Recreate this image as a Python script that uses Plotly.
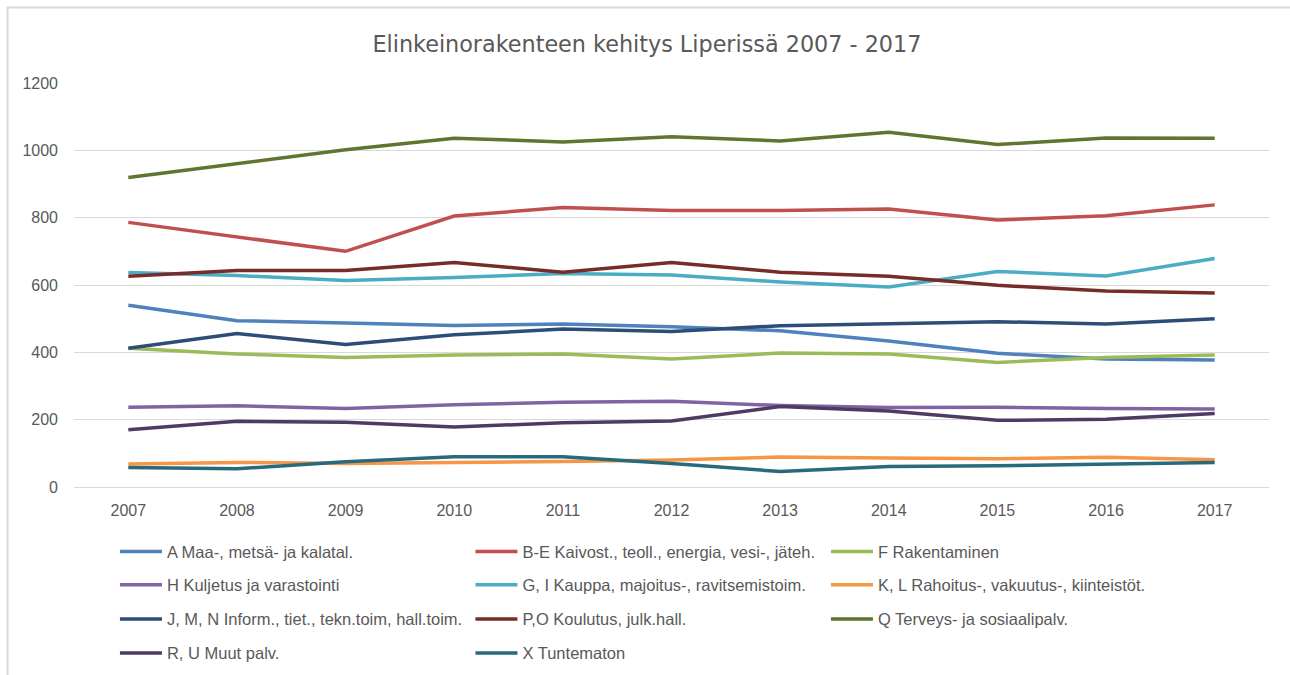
import plotly.graph_objects as go

# ── data ──────────────────────────────────────────────
years = [2007, 2008, 2009, 2010, 2011, 2012, 2013, 2014, 2015, 2016, 2017]

a_maa = [540, 494, 487, 480, 484, 476, 464, 434, 397, 380, 377]
be_teoll = [786, 744, 700, 805, 830, 821, 821, 826, 793, 806, 838]
f_rak = [412, 395, 385, 392, 395, 380, 398, 395, 370, 385, 392]
h_kulj = [237, 241, 233, 244, 252, 255, 242, 236, 237, 233, 232]
gi_kauppa = [637, 628, 613, 622, 634, 630, 609, 594, 640, 627, 679]
kl_rahoitus = [68, 73, 70, 72, 76, 80, 89, 86, 84, 88, 81]
jmn_inform = [412, 456, 423, 452, 469, 462, 479, 484, 491, 484, 500]
po_koulutus = [626, 643, 643, 667, 638, 667, 638, 626, 599, 582, 576]
q_terveys = [919, 961, 1002, 1036, 1025, 1040, 1028, 1054, 1017, 1037, 1036]
ru_muut = [170, 195, 192, 178, 191, 196, 239, 226, 198, 201, 218]
x_tunt = [58, 54, 75, 90, 90, 70, 46, 61, 63, 69, 73]

series = [
    ('A Maa-, metsä- ja kalatal.', a_maa, '#4F81BD', 'legend'),
    ('B-E Kaivost., teoll., energia, vesi-, jäteh.', be_teoll, '#C0504D', 'legend'),
    ('F Rakentaminen', f_rak, '#9BBB59', 'legend'),
    ('H Kuljetus ja varastointi', h_kulj, '#8064A2', 'legend2'),
    ('G, I Kauppa, majoitus-, ravitsemistoim.', gi_kauppa, '#4BACC6', 'legend2'),
    ('K, L Rahoitus-, vakuutus-, kiinteistöt.', kl_rahoitus, '#F79646', 'legend2'),
    ('J, M, N Inform., tiet., tekn.toim, hall.toim.', jmn_inform, '#2C4D75', 'legend3'),
    ('P,O Koulutus, julk.hall.', po_koulutus, '#772C2A', 'legend3'),
    ('Q Terveys- ja sosiaalipalv.', q_terveys, '#5F7530', 'legend3'),
    ('R, U Muut palv.', ru_muut, '#4D3B62', 'legend4'),
    ('X Tuntematon', x_tunt, '#276A7C', 'legend4'),
]

TXT = '#595959'
GRID = '#D9D9D9'

fig = go.Figure()
for name, vals, color, leg in series:
    fig.add_trace(go.Scatter(
        x=years, y=vals, name=name, mode='lines',
        line=dict(color=color, width=3.5),
        legend=leg,
    ))

# one horizontal legend per row, like Excel's bottom legend
leg_font = dict(family='Liberation Sans, Arial, sans-serif', size=16.5, color=TXT)
row_y = [0.1827, 0.1333, 0.0825, 0.0321]
legends = {}
for i, key in enumerate(['legend', 'legend2', 'legend3', 'legend4']):
    legends[key] = dict(
        orientation='h', x=0.0891, xref='container', xanchor='left',
        y=row_y[i], yref='container', yanchor='middle',
        entrywidth=298.5, entrywidthmode='pixels', itemwidth=42,
        font=leg_font, bgcolor='rgba(0,0,0,0)',
        traceorder='normal',
    )

fig.update_layout(
    width=1290, height=675,
    margin=dict(l=74, r=21, t=83, b=188),
    paper_bgcolor='white', plot_bgcolor='white',
    title=dict(
        text='Elinkeinorakenteen kehitys Liperissä 2007 - 2017',
        x=0.5015, xref='container', xanchor='center',
        y=0.9348, yref='container', yanchor='middle',
        font=dict(family='DejaVu Sans, sans-serif', size=22.3, color=TXT),
    ),
    xaxis=dict(
        range=[2006.5, 2017.5], tickvals=years,
        showgrid=False, zeroline=False, showline=False, ticks='',
        tickfont=dict(family='Liberation Sans, Arial, sans-serif', size=16, color=TXT),
        ticklabelstandoff=12,
    ),
    yaxis=dict(
        range=[0, 1200], dtick=200,
        gridcolor=GRID, gridwidth=1.3,
        zeroline=True, zerolinecolor=GRID, zerolinewidth=1.3,
        showline=False, ticks='',
        tickfont=dict(family='Liberation Sans, Arial, sans-serif', size=16, color=TXT),
        ticklabelstandoff=15,
    ),
    showlegend=True,
    shapes=[dict(
        type='path', xref='paper', yref='paper',
        path='M -0.0556,-0.5 L -0.0556,1.187 L 1.03,1.187',
        line=dict(color=GRID, width=2),
    )],
    **legends,
)

fig.write_html('out.html', config={'displayModeBar': False},
               post_script="document.body.style.margin='0';")
